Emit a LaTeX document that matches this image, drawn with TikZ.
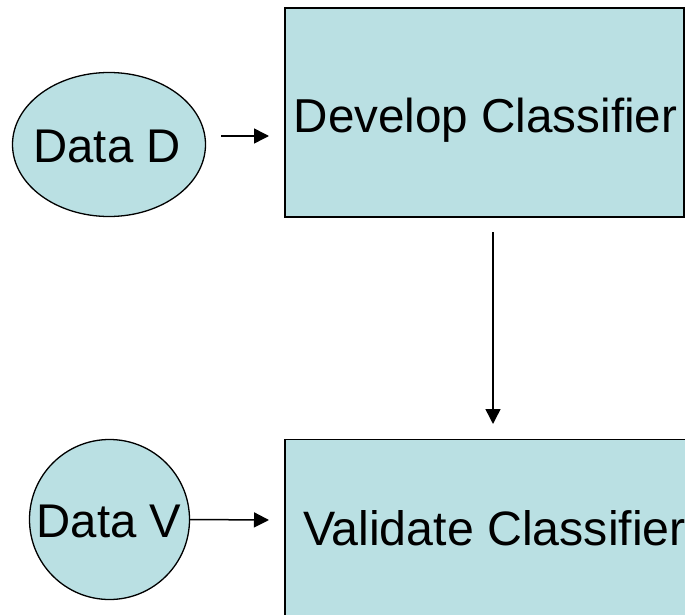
\documentclass[tikz,border=0pt]{standalone}
\usepackage{fontspec}
\setmainfont{Liberation Sans}
\usetikzlibrary{arrows.meta,shapes.geometric}
\definecolor{boxfill}{RGB}{186,224,227}
\begin{document}
\begin{tikzpicture}[x=1pt,y=-1pt,
  shapeline/.style={draw=black,line width=1.3pt,fill=boxfill,inner sep=0pt},
  databox/.style={shapeline,ellipse},
  stagebox/.style={shapeline,rectangle},
  caption/.style={anchor=base west,inner sep=0pt,font=\fontsize{#1}{52}\selectfont},
  flow/.style={line width=1.5pt,-{Triangle[length=15pt,width=15pt]}}]
  \useasboundingbox (0,0) rectangle (685,615);
  \clip (0,0) rectangle (685,615);
  % input data sets
  \node[databox,minimum width=193pt,minimum height=144pt] (dd) at (109,144.5) {};
  \node[databox,minimum width=160pt,minimum height=160pt] (dv) at (109.5,519.5) {};
  \node[caption=47.3] (ddt) at (33.3,162.7) {Data D};
  \node[caption=47.3] (dvt) at (36.5,537.7) {Data V};
  % classifier stages
  \node[stagebox,minimum width=399pt,minimum height=209pt] (dev) at (484.5,112.5) {};
  \node[stagebox,minimum width=430pt,minimum height=200pt] (val) at (500,539.5) {};
  \node[caption=47.6] (devt) at (293.6,132.7) {Develop Classifier};
  \node[caption=48.3] (valt) at (302.8,545) {Validate Classifier};
  % connectors
  \coordinate (a1) at (221,136);
  \coordinate (a2) at (269,136);
  \draw[flow] (a1) -- (a2);
  \coordinate (b1) at (493,232);
  \coordinate (b2) at (493,424);
  \draw[flow] (b1) -- (b2);
  \coordinate (c2) at (269,520);
  \draw[flow] (dv.east) -- (c2);
\end{tikzpicture}
\end{document}
